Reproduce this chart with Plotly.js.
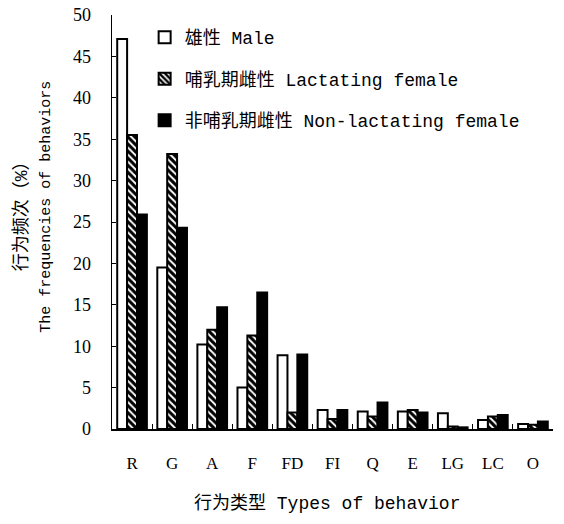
<!DOCTYPE html>
<html>
<head>
<meta charset="utf-8">
<script src="https://cdn.plot.ly/plotly-3.0.1.min.js"></script>
<style>html,body{margin:0;padding:0;background:#fff;}#chart{width:564px;height:524px;}</style>
</head>
<body>
<div id="chart"></div>
<script>
const categories = ["R","G","A","F","FD","FI","Q","E","LG","LC","O"];
const male = [47.1, 19.5, 10.2, 5.0, 8.9, 2.3, 2.1, 2.1, 1.9, 1.1, 0.6];
const lactating = [35.5, 33.2, 12.0, 11.3, 2.0, 1.2, 1.5, 2.3, 0.3, 1.5, 0.5];
const nonLactating = [25.9, 24.3, 14.7, 16.5, 9.0, 2.3, 3.2, 2.0, 0.2, 1.7, 0.9];
const seriesNames = ["雄性 Male", "哺乳期雌性 Lactating female", "非哺乳期雌性 Non-lactating female"];
const yTicks = [0,5,10,15,20,25,30,35,40,45,50];

const mono = "Liberation Mono, 'Noto Sans CJK SC', monospace";
const serif = "Liberation Serif, 'Noto Sans CJK SC', serif";

const traces = [
  {type:'bar', x:categories, y:male, name:seriesNames[0], legendgroup:'a',
   marker:{color:'#ffffff', line:{color:'#000', width:2}}},
  {type:'bar', x:categories, y:lactating, name:seriesNames[1], legendgroup:'b',
   marker:{color:'#ffffff', line:{color:'#000', width:2},
     pattern:{shape:'\\', fgcolor:'#000', bgcolor:'#fff', size:5, solidity:0.6}}},
  {type:'bar', x:categories, y:nonLactating, name:seriesNames[2], legendgroup:'c',
   marker:{color:'#000000', line:{color:'#000', width:2}}}
];

const layout = {
  width:564, height:524,
  margin:{l:112, r:11, t:15, b:95},
  paper_bgcolor:'#fff', plot_bgcolor:'#fff',
  barmode:'group', bargap:0.26, bargroupgap:0,
  showlegend:true,
  legend:{x:0.074, y:0.99, xanchor:'left', yanchor:'top', bgcolor:'rgba(0,0,0,0)',
    traceorder:'grouped', tracegroupgap:15,
    font:{family:mono, size:18, color:'#000'}},
  xaxis:{type:'category', range:[-0.5,10.5], showline:true, linecolor:'#000', linewidth:1.5,
    ticks:'inside', tickson:'boundaries', ticklen:5, tickcolor:'#000', tickwidth:1,
    showgrid:false, zeroline:false, ticklabelstandoff:18,
    tickfont:{family:serif, size:17, color:'#000'}},
  yaxis:{range:[0,50], tickvals:yTicks, showline:true, linecolor:'#000', linewidth:1.5,
    ticks:'inside', ticklen:4, tickcolor:'#000', tickwidth:1,
    showgrid:false, zeroline:false, ticklabelstandoff:16,
    tickfont:{family:serif, size:18, color:'#000'}},
  annotations:[
    {text:'行为频次（%）', xref:'paper', yref:'paper', x:-0.205, y:0.525, textangle:-90,
     showarrow:false, xanchor:'center', yanchor:'middle', font:{family:mono, size:18, color:'#000'}},
    {text:'The frequencies of behaviors', xref:'paper', yref:'paper', x:-0.147, y:0.537, textangle:-90,
     showarrow:false, xanchor:'center', yanchor:'middle', font:{family:mono, size:15, color:'#000'}},
    {text:'行为类型 Types of behavior', xref:'paper', yref:'paper', x:0.488, y:-0.18,
     showarrow:false, xanchor:'center', yanchor:'middle', font:{family:mono, size:18, color:'#000'}}
  ]
};

Plotly.newPlot('chart', traces, layout, {displayModeBar:false, staticPlot:true});
</script>
</body>
</html>
